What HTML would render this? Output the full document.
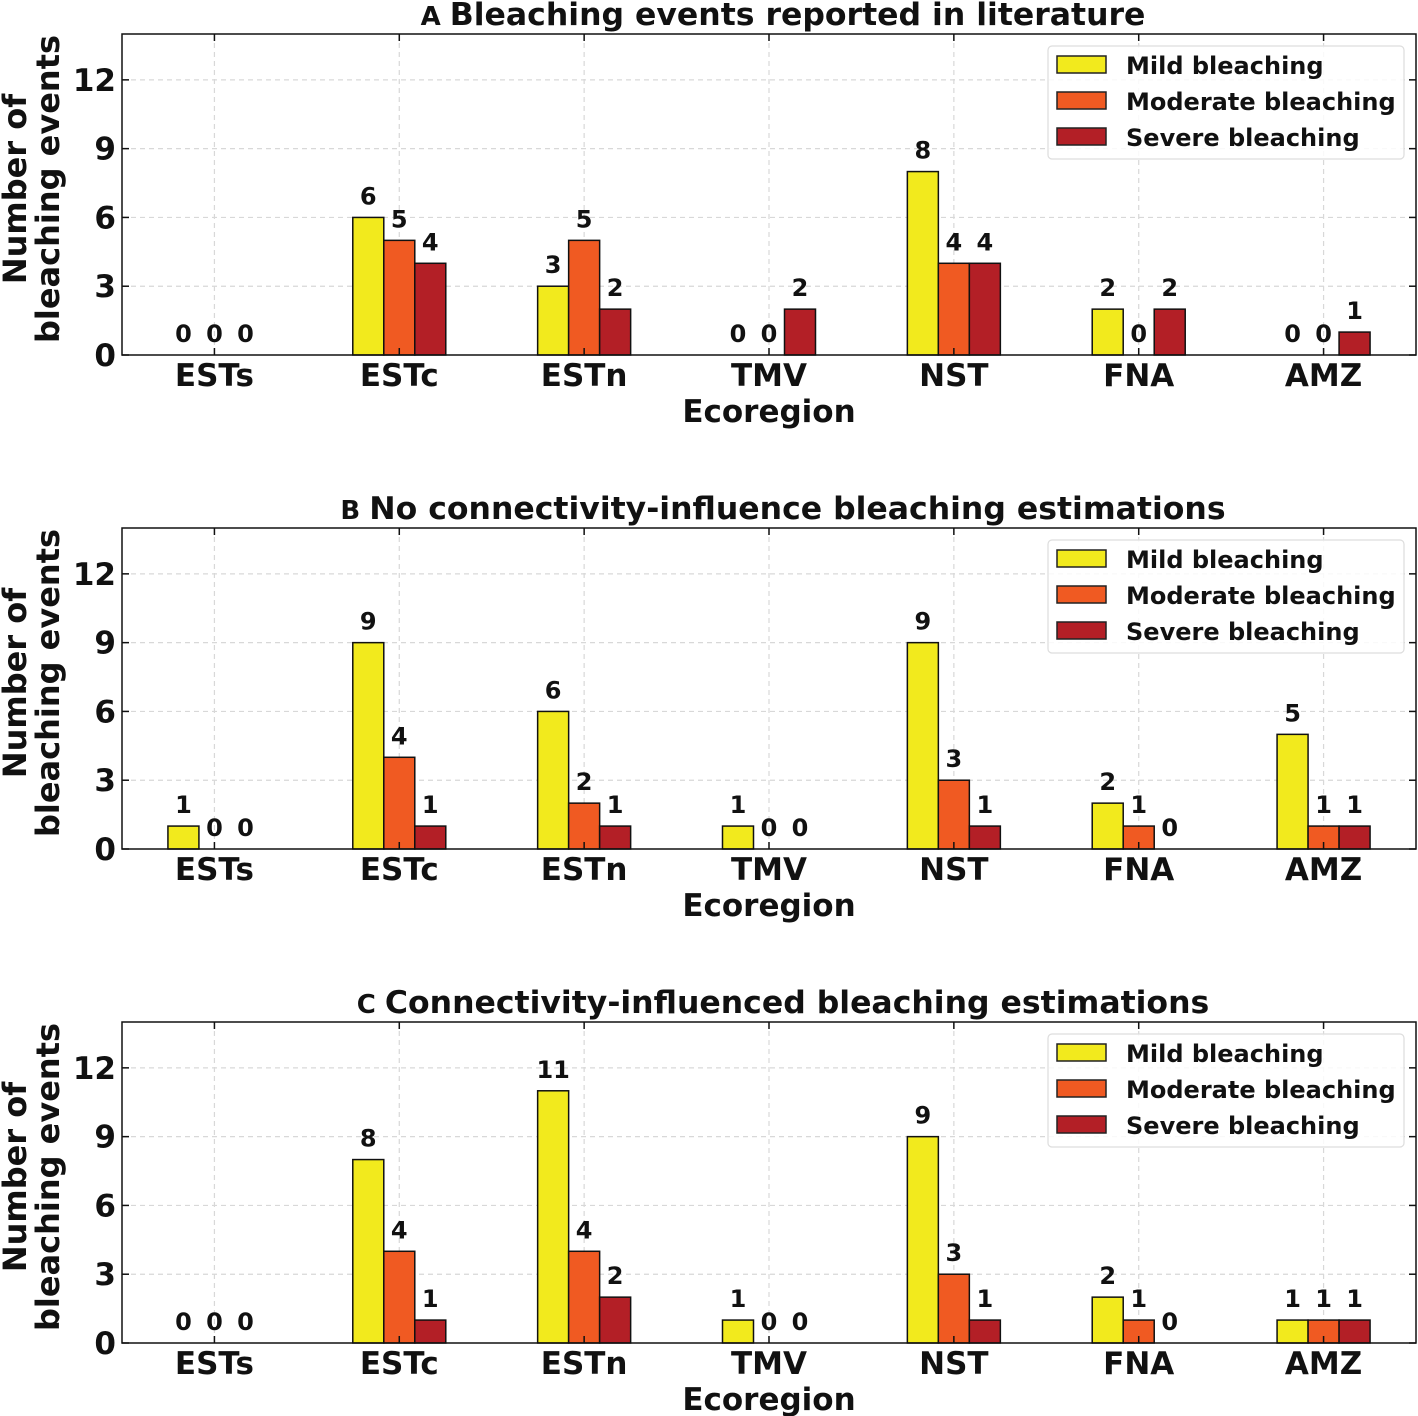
<!DOCTYPE html>
<html><head><meta charset="utf-8"><style>
body{margin:0;background:#fff;}
svg{display:block;font-family:"DejaVu Sans","Liberation Sans",sans-serif;font-weight:bold;}
</style></head><body>
<svg id="chart" width="1418" height="1416" viewBox="0 0 1418 1416" xmlns="http://www.w3.org/2000/svg"></svg>
<script>
const categories = ["ESTs","ESTc","ESTn","TMV","NST","FNA","AMZ"];
const seriesNames = ["Mild bleaching","Moderate bleaching","Severe bleaching"];
const panelLetters = ["A","B","C"];
const panelTitles = ["Bleaching events reported in literature","No connectivity-influence bleaching estimations","Connectivity-influenced bleaching estimations"];
const aMild = [0,6,3,0,8,2,0];
const aModerate = [0,5,5,0,4,0,0];
const aSevere = [0,4,2,2,4,2,1];
const bMild = [1,9,6,1,9,2,5];
const bModerate = [0,4,2,0,3,1,1];
const bSevere = [0,1,1,0,1,0,1];
const cMild = [0,8,11,1,9,2,1];
const cModerate = [0,4,4,0,3,1,1];
const cSevere = [0,1,2,0,1,0,1];
const yTicks = [0,3,6,9,12];
const panelData = [[aMild,aModerate,aSevere],[bMild,bModerate,bSevere],[cMild,cModerate,cSevere]];

const colors = ["#f2ea1d","#f05a22","#b31f26"];
const NS = "http://www.w3.org/2000/svg";
const svg = document.getElementById("chart");
function mk(tag, attrs, parent){const e=document.createElementNS(NS,tag);for(const k in attrs)e.setAttribute(k,attrs[k]);(parent||svg).appendChild(e);return e;}

const L=122,R=1416,H=321;
const tops=[34,528,1022];
const xMin=-0.5,xMax=6.5,yMax=14;
const barW=31;

panelData.forEach((series,p)=>{
  const T=tops[p],B=T+H;
  const x=v=>L+(v-xMin)/(xMax-xMin)*(R-L);
  const y=v=>B-v/yMax*H;
  const g=mk("g",{});
  
  
  yTicks.forEach(t=>{ if(t>0){const l=mk("line",{x1:L,x2:R,y1:y(t),y2:y(t),stroke:"#d8d8d8","stroke-width":1.2,"stroke-dasharray":"5,4"},g);
    }});
  categories.forEach((c,i)=>{const l=mk("line",{x1:x(i),x2:x(i),y1:T,y2:B,stroke:"#d8d8d8","stroke-width":1.2,"stroke-dasharray":"5,4"},g);
    });
  series.forEach((vals,s)=>{
    vals.forEach((v,i)=>{
      const cx=x(i)+(s-1)*barW;
      const r=mk("rect",{x:cx-barW/2,y:y(v),width:barW,height:B-y(v),fill:colors[s],stroke:"#111","stroke-width":1.5},g);
      
      
      const t=mk("text",{x:cx,y:y(v)-13,"text-anchor":"middle","font-size":24,fill:"#111"},g);
      t.textContent=v;
      
    });
  });
  const fr=mk("rect",{x:L,y:T,width:R-L,height:H,fill:"none",stroke:"#111","stroke-width":1.5},g);
  
  yTicks.forEach(t=>{
    mk("line",{x1:L,x2:L+7,y1:y(t),y2:y(t),stroke:"#111","stroke-width":1.5},g);
    mk("line",{x1:R,x2:R-7,y1:y(t),y2:y(t),stroke:"#111","stroke-width":1.5},g);
    const tl=mk("text",{x:L-6,y:y(t)+11,"text-anchor":"end","font-size":31,fill:"#111"},g);
    tl.textContent=t;
  });
  categories.forEach((c,i)=>{
    mk("line",{x1:x(i),x2:x(i),y1:B,y2:B-7,stroke:"#111","stroke-width":1.5},g);
    mk("line",{x1:x(i),x2:x(i),y1:T,y2:T+7,stroke:"#111","stroke-width":1.5},g);
    const tl=mk("text",{x:x(i),y:B+31,"text-anchor":"middle","font-size":31,fill:"#111"},g);
    tl.textContent=c;
  });
  const xt=mk("text",{x:769,y:B+67,"text-anchor":"middle","font-size":31,fill:"#111"},g);
  xt.textContent="Ecoregion";
  const yt=mk("text",{transform:`translate(26,${T+155}) rotate(-90)`,"text-anchor":"middle","font-size":32,fill:"#111"},g);
  const s1=mk("tspan",{x:0,dy:0},yt);s1.textContent="Number of";
  const s2=mk("tspan",{x:0,dy:33},yt);s2.textContent="bleaching events";
  
  const tt=mk("text",{x:783,y:T-9,"text-anchor":"middle","font-size":31.5,fill:"#111"},g);
  const tA=mk("tspan",{"font-size":26},tt);tA.textContent=panelLetters[p]+" ";
  const tB=mk("tspan",{},tt);tB.textContent=panelTitles[p];
  
  const lg=mk("g",{},g);
  
  mk("rect",{x:1048,y:T+12,width:356,height:113,rx:4,fill:"#fff","fill-opacity":0.85,stroke:"#ddd","stroke-width":1.2},lg);
  seriesNames.forEach((n,s)=>{
    const yy=T+31+s*36;
    const sw=mk("rect",{x:1057,y:yy-9,width:49,height:17,fill:colors[s],stroke:"#222","stroke-width":1.5},lg);
    
    const lt=mk("text",{x:1126,y:yy+9,"font-size":24,fill:"#111"},lg);
    lt.textContent=n;
  });
});
</script>
</body></html>
